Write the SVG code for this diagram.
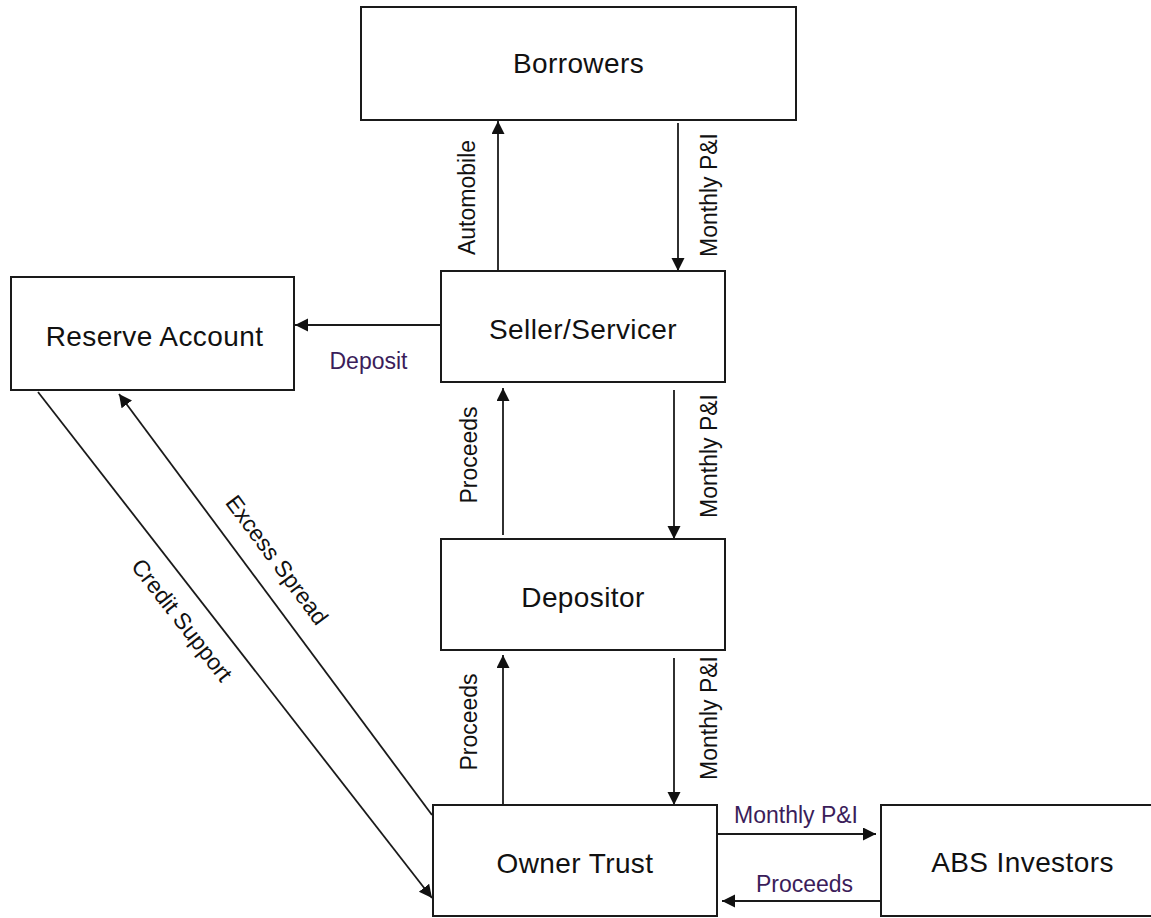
<svg xmlns="http://www.w3.org/2000/svg" width="1151" height="918" viewBox="0 0 1151 918">
<style>
.box{fill:#fff;stroke:#1a1a1a;stroke-width:2}
.ln{fill:none;stroke:#1a1a1a;stroke-width:1.8}
.nt{font-family:"Liberation Sans",Arial,sans-serif;font-size:28px;letter-spacing:0.4px;fill:#111;text-anchor:middle}
.lb{font-family:"Liberation Sans",Arial,sans-serif;font-size:23px;fill:#111;text-anchor:middle}
.lp{fill:#3b1d5a}
</style>
<defs>
<marker id="ah" markerUnits="userSpaceOnUse" markerWidth="14" markerHeight="14" refX="13" refY="6.5" orient="auto">
<path d="M0,0 L13,6.5 L0,13 z" fill="#111"/>
</marker>
</defs>
<rect width="1151" height="918" fill="#fff"/>
<g id="connectors">
<line class="ln" x1="498" y1="271" x2="498" y2="121" marker-end="url(#ah)"/>
<line class="ln" x1="678" y1="123" x2="678" y2="271" marker-end="url(#ah)"/>
<line class="ln" x1="441" y1="325" x2="295" y2="325" marker-end="url(#ah)"/>
<line class="ln" x1="503" y1="535" x2="503" y2="388" marker-end="url(#ah)"/>
<line class="ln" x1="674" y1="390" x2="674" y2="539" marker-end="url(#ah)"/>
<line class="ln" x1="503" y1="805" x2="503" y2="655" marker-end="url(#ah)"/>
<line class="ln" x1="674" y1="658" x2="674" y2="805" marker-end="url(#ah)"/>
<line class="ln" x1="717" y1="834" x2="876" y2="834" marker-end="url(#ah)"/>
<line class="ln" x1="881" y1="901" x2="722" y2="901" marker-end="url(#ah)"/>
<line class="ln" x1="38" y1="392" x2="432" y2="898" marker-end="url(#ah)"/>
<line class="ln" x1="432" y1="815" x2="119" y2="394" marker-end="url(#ah)"/>
<text class="lb" transform="translate(475,197.5) rotate(-90)">Automobile</text>
<text class="lb" transform="translate(717,195) rotate(-90)">Monthly P&amp;I</text>
<text class="lb lp" x="368.5" y="369">Deposit</text>
<text class="lb" transform="translate(477,455) rotate(-90)">Proceeds</text>
<text class="lb" transform="translate(717,456) rotate(-90)">Monthly P&amp;I</text>
<text class="lb" transform="translate(477,722) rotate(-90)">Proceeds</text>
<text class="lb" transform="translate(717,718) rotate(-90)">Monthly P&amp;I</text>
<text class="lb lp" x="796" y="823">Monthly P&amp;I</text>
<text class="lb lp" x="804.5" y="892">Proceeds</text>
<text class="lb" transform="translate(270.6,564.8) rotate(53.4)">Excess Spread</text>
<text class="lb" transform="translate(175.7,624.9) rotate(52.1)">Credit Support</text>
</g>
<g id="borrowers">
<rect class="box" x="361" y="7" width="435" height="113"/>
<text class="nt" x="578.5" y="73">Borrowers</text>
</g>
<g id="reserve">
<rect class="box" x="11" y="277" width="283" height="113"/>
<text class="nt" x="154.5" y="346">Reserve Account</text>
</g>
<g id="seller">
<rect class="box" x="441" y="271" width="284" height="111"/>
<text class="nt" x="583" y="339">Seller/Servicer</text>
</g>
<g id="depositor">
<rect class="box" x="441" y="539" width="284" height="111"/>
<text class="nt" x="583" y="607">Depositor</text>
</g>
<g id="owner">
<rect class="box" x="433" y="805" width="284" height="111"/>
<text class="nt" x="575" y="873">Owner Trust</text>
</g>
<g id="investors">
<rect class="box" x="881" y="805" width="290" height="111"/>
<text class="nt" x="1022.5" y="872">ABS Investors</text>
</g>
</svg>
